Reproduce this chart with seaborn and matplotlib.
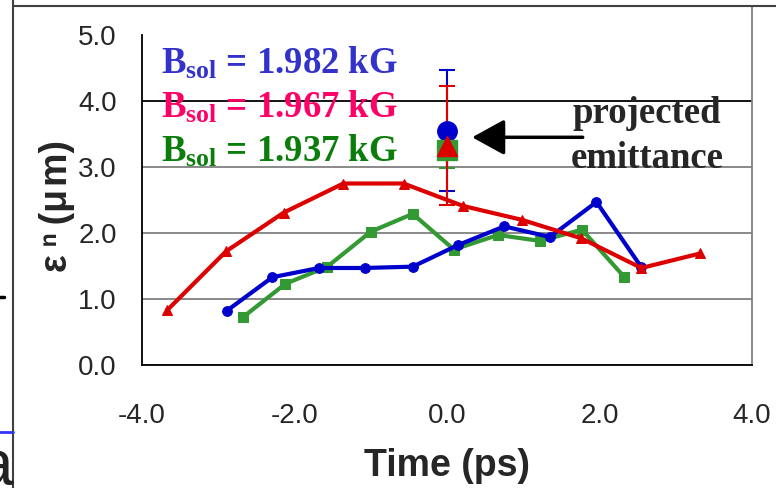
import numpy as np
import pandas as pd
import matplotlib
matplotlib.use('Agg')
import matplotlib.pyplot as plt
import seaborn as sns
from matplotlib.lines import Line2D

# emittance vs slice time for three solenoid fields
time_982 = [-2.89, -2.29, -1.68, -1.08, -0.45, 0.15, 0.75, 1.35, 1.96, 2.55]
emit_982 = [0.82, 1.33, 1.47, 1.47, 1.49, 1.82, 2.10, 1.94, 2.47, 1.48]
time_967 = [-3.67, -2.90, -2.14, -1.36, -0.57, 0.21, 0.98, 1.76, 2.55, 3.32]
emit_967 = [0.83, 1.72, 2.31, 2.75, 2.75, 2.41, 2.20, 1.92, 1.47, 1.69]
time_937 = [-2.67, -2.12, -1.57, -1.00, -0.45, 0.09, 0.67, 1.22, 1.77, 2.32]
emit_937 = [0.73, 1.23, 1.49, 2.02, 2.29, 1.75, 1.97, 1.88, 2.05, 1.34]

# projected emittance at t = 0
fields = ['1.982', '1.967', '1.937']
proj_time = [0.0, 0.0, 0.0]
proj_emit = [3.55, 3.32, 3.26]
proj_err = [0.92, 0.90, 0.28]

yticks = [0.0, 1.0, 2.0, 3.0, 4.0, 5.0]
xticks = [-4.0, -2.0, 0.0, 2.0, 4.0]

sns.set_style('white')
plt.rcParams['font.family'] = ['Liberation Sans', 'DejaVu Sans']
plt.rcParams['mathtext.fontset'] = 'custom'
plt.rcParams['mathtext.rm'] = 'Liberation Serif:bold'
plt.rcParams['mathtext.bf'] = 'Liberation Serif:bold'
plt.rcParams['mathtext.it'] = 'Liberation Serif:bold'

W, H = 776, 488
fig = plt.figure(figsize=(W / 100, H / 100), dpi=100)
ax = fig.add_axes([142 / W, 123 / H, 610 / W, 359 / H])

line_col = {'1.982': '#0000CC', '1.967': '#DD0000', '1.937': '#339933'}
text_col = {'1.982': '#3333CC', '1.967': '#FF0066', '1.937': '#0A7D0A'}
markers = {'1.982': 'o', '1.967': '^', '1.937': 's'}

series = pd.concat([
    pd.DataFrame({'t': time_937, 'e': emit_937, 'B': '1.937'}),
    pd.DataFrame({'t': time_982, 'e': emit_982, 'B': '1.982'}),
    pd.DataFrame({'t': time_967, 'e': emit_967, 'B': '1.967'}),
])
for b, d in series.groupby('B', sort=False):
    sns.lineplot(data=d, x='t', y='e', ax=ax, color=line_col[b], sort=False,
                 marker=markers[b], markersize=7, markeredgecolor=line_col[b],
                 linewidth=3.0, zorder=3)

# error bars then big markers
for i in [0, 2, 1]:
    b = fields[i]
    ax.errorbar(proj_time[i], proj_emit[i], yerr=proj_err[i], fmt='none',
                ecolor=line_col[b], elinewidth=1.5, capsize=6, capthick=1.5, zorder=4)
for i in [0, 2, 1]:
    b = fields[i]
    ax.plot(proj_time[i], proj_emit[i], marker=markers[b], markersize=14,
            color=line_col[b], linestyle='none', zorder=5)

ax.set_xlim(-4, 4)
ax.set_ylim(0, 359 / 66)
ax.set_xticks(xticks)
ax.set_xticklabels([f'{v:.1f}' for v in xticks])
ax.set_yticks(yticks)
ax.set_yticklabels([f'{v:.1f}' for v in yticks])
ax.set_xlabel('')
ax.set_ylabel('')
ax.tick_params(axis='x', direction='out', length=8.6, width=1.2, color='#555555',
               labelsize=20, pad=19)
ax.tick_params(axis='y', direction='out', length=7.2, width=1.2, color='black',
               labelsize=20, pad=11)

ax.yaxis.grid(True, color='#808080', linewidth=1.3)
gl = ax.get_ygridlines()
gl[4].set_color('black')
gl[5].set_visible(False)
ax.set_axisbelow(True)

for s in ['left', 'bottom']:
    ax.spines[s].set_color('black')
    ax.spines[s].set_linewidth(1.3)
ax.spines['left'].set_bounds(0, 5)
ax.spines['right'].set_color('#808080')
ax.spines['right'].set_linewidth(1.3)
ax.spines['top'].set_visible(False)

# field labels
for i, b in enumerate(fields):
    ax.text(-3.75, 4.41 - i * 0.665, f'B$_{{\\mathrm{{sol}}}}$ = {b} kG',
            family='Liberation Serif', weight='bold', fontsize=26.5,
            color=text_col[b], va='baseline', ha='left', zorder=6)

ax.text(2.62, 3.67, 'projected', family='Liberation Serif', weight='bold',
        fontsize=26.5, ha='center', va='baseline', zorder=6)
ax.text(2.62, 2.98, 'emittance', family='Liberation Serif', weight='bold',
        fontsize=26.5, ha='center', va='baseline', zorder=6)
ax.annotate('', xy=(0.33, 3.45), xytext=(1.78, 3.45),
            arrowprops=dict(arrowstyle='-|>,head_length=1.0,head_width=0.55',
                            color='black', lw=2.5, mutation_scale=20,
                            shrinkA=0, shrinkB=0), zorder=6)

fig.text(447 / W, 1 - 476 / H, 'Time (ps)', ha='center', va='baseline',
         fontsize=27, weight='bold')
fig.text(75 / W, 1 - 206 / H, 'ε\u2009ⁿ\u2009(μ\u200am)', ha='right', va='center',
         rotation=90, fontsize=27, weight='bold')

# slide frame remnants
fig.add_artist(Line2D([13 / W, 13 / W], [0, 1], color='#404040', lw=1.5))
fig.add_artist(Line2D([13 / W, 1], [1 - 6 / H, 1 - 6 / H], color='#404040', lw=1.5))
fig.add_artist(Line2D([0, 13 / W], [1 - 432 / H, 1 - 432 / H], color='#3333FF', lw=2))
fig.add_artist(Line2D([0, 4 / W], [1 - 297 / H, 1 - 297 / H], color='black', lw=2.5))
fig.text(13 / W, 1 - 486 / H, 'a', ha='right', va='baseline', fontsize=46,
         color='#222222')

fig.savefig('out.png', dpi=100)
